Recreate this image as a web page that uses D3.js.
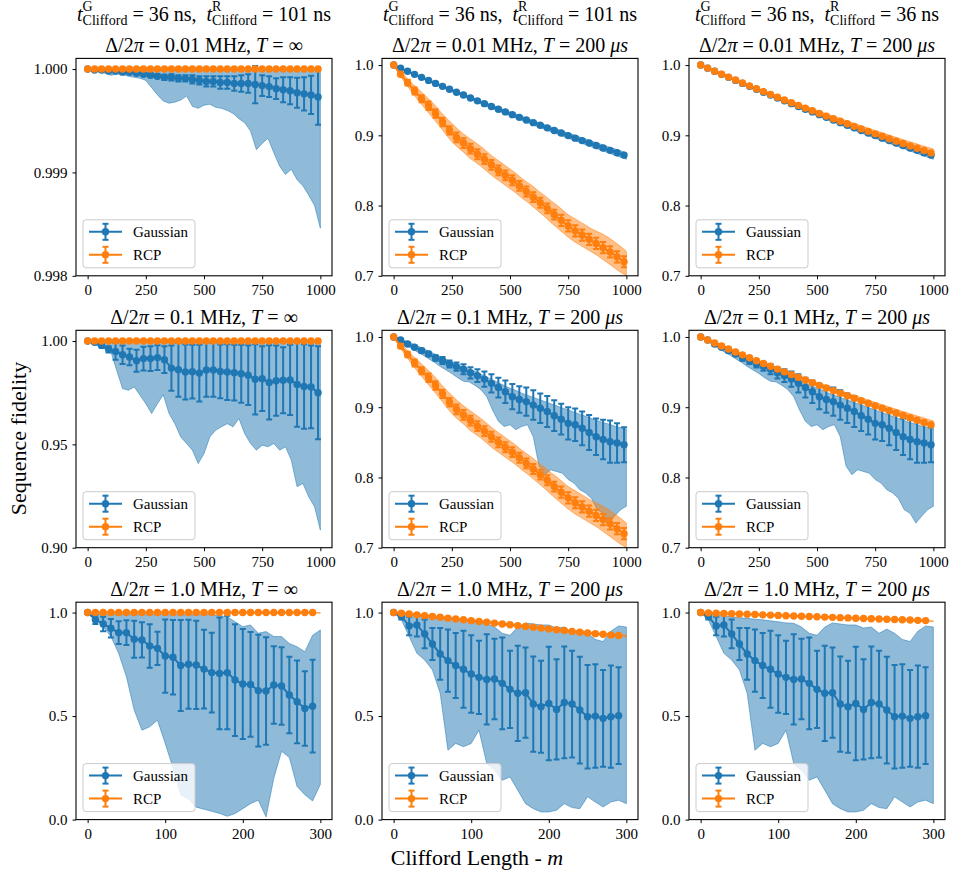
<!DOCTYPE html>
<html>
<head>
<meta charset="utf-8">
<script src="https://cdn.jsdelivr.net/npm/d3@7"></script>
<style>
  body { margin: 0; background: #fff; }
  svg text { font-family: "Liberation Serif", "Times New Roman", serif; fill: #000; }
</style>
</head>
<body>
<div id="chart"></div>
<script>
// ---- x grids (Clifford length m) ----
var mLong = d3.range(0, 991, 30);      // marker positions, 0..990
var mShort = d3.range(0, 291, 10);     // marker positions, 0..290
var bandLong = d3.range(0, 1001, 25);  // band sampling, 0..1000
var bandShort = d3.range(0, 301, 10);  // band sampling, 0..300

// ---- ideal RCP (T = inf): stays at 1 ----
var rInfMean34 = [1,1,1,1,1,1,1,1,1,1, 1,1,1,1,1,1,1,1,1,1, 1,1,1,1,1,1,1,1,1,1, 1,1,1,1];
var rInfErr34 = [0,0,0,0,0,0,0,0,0,0, 0,0,0,0,0,0,0,0,0,0, 0,0,0,0,0,0,0,0,0,0, 0,0,0,0];
var rInfBand41 = [1,1,1,1,1,1,1,1,1,1, 1,1,1,1,1,1,1,1,1,1, 1,1,1,1,1,1,1,1,1,1, 1,1,1,1,1,1,1,1,1,1, 1];
var rInfMean30 = [1,1,1,1,1,1,1,1,1,1, 1,1,1,1,1,1,1,1,1,1, 1,1,1,1,1,1,1,1,1,1];
var rInfErr30 = [0,0,0,0,0,0,0,0,0,0, 0,0,0,0,0,0,0,0,0,0, 0,0,0,0,0,0,0,0,0,0];
var rInfLo31 = [1,1,1,1,1,1,1,1,1,1, 1,1,1,1,1,1,1,1,1,1, 1,1,1,1,1,1,1,1,0.999,0.998, 0.997];
var rInfHi31 = [1,1,1,1,1,1,1,1,1,1, 1,1,1,1,1,1,1,1,1,1, 1,1,1,1,1,1,1,1,1,1, 1];

// ---- Gaussian, 0.01 MHz, T = inf ----
var g1Mean = [1.0, 0.99999, 0.99999, 0.99998, 0.99998, 0.99997, 0.99997, 0.99996, 0.99995, 0.99994,
  0.99993, 0.99992, 0.99992, 0.99991, 0.99991, 0.99990, 0.99989, 0.99988, 0.99988, 0.99987,
  0.99987, 0.99986, 0.99986, 0.99986, 0.99985, 0.99984, 0.99983, 0.99981, 0.99980, 0.99979,
  0.99977, 0.99976, 0.99975, 0.99973];
var g1Err = [0, 0.000003, 0.000005, 0.000006, 0.000008, 0.00001, 0.00001, 0.000012, 0.000015, 0.00002,
  0.00002, 0.000025, 0.00003, 0.00003, 0.00003, 0.00004, 0.00004, 0.00005, 0.00005, 0.00006,
  0.00006, 0.00007, 0.00008, 0.00009, 0.00018, 0.0001, 0.0001, 0.0001, 0.00012, 0.00013,
  0.000145, 0.00016, 0.000185, 0.00027];
var g1Lo = [1.0, 0.99999, 0.99997, 0.99996, 0.99994, 0.99995, 0.99995, 0.99993, 0.99992, 0.99991,
  0.99989, 0.99982, 0.99975, 0.99969, 0.99967, 0.99968, 0.9997, 0.99974, 0.99964, 0.99962,
  0.99965, 0.99966, 0.99963, 0.99962, 0.9996, 0.99957, 0.99952, 0.99948, 0.9994, 0.99922,
  0.99928, 0.99933, 0.99919, 0.99906, 0.99898, 0.99903, 0.99893, 0.99887, 0.99878, 0.99868,
  0.99846];
var g1Hi = rInfBand41;

// ---- Gaussian, 0.01 MHz, T = 200 us ----
var g2Mean = [1.0, 0.9956, 0.9911, 0.9868, 0.9825, 0.9782, 0.9739, 0.9697, 0.9655, 0.9614,
  0.9573, 0.9532, 0.9491, 0.9451, 0.9411, 0.9372, 0.9333, 0.9294, 0.9256, 0.9218,
  0.9180, 0.9143, 0.9106, 0.9069, 0.9032, 0.8996, 0.8960, 0.8925, 0.8890, 0.8855,
  0.8820, 0.8786, 0.8752, 0.8718];
var g2Err = [0, 0.0003, 0.0005, 0.0006, 0.0007, 0.0008, 0.0009, 0.001, 0.001, 0.0011,
  0.0011, 0.0012, 0.0012, 0.0013, 0.0013, 0.0014, 0.0014, 0.0015, 0.0015, 0.0015,
  0.0016, 0.0016, 0.0016, 0.0017, 0.0017, 0.0017, 0.0018, 0.0018, 0.0018, 0.0019,
  0.0019, 0.0019, 0.002, 0.002];
var g2Lo = [1.0, 0.9958, 0.9919, 0.9880, 0.9843, 0.9806, 0.9769, 0.9731, 0.9695, 0.9659,
  0.9623, 0.9588, 0.9553, 0.9518, 0.9483, 0.9448, 0.9414, 0.9380, 0.9346, 0.9312,
  0.9279, 0.9246, 0.9213, 0.9181, 0.9148, 0.9116, 0.9084, 0.9052, 0.9021, 0.8989,
  0.8958, 0.8928, 0.8897, 0.8867, 0.8836, 0.8807, 0.8776, 0.8747, 0.8717, 0.8688,
  0.8659];
var g2Hi = [1.0, 0.9967, 0.9932, 0.9897, 0.9862, 0.9828, 0.9794, 0.9759, 0.9725, 0.9691,
  0.9657, 0.9624, 0.9591, 0.9558, 0.9525, 0.9492, 0.9460, 0.9428, 0.9396, 0.9364,
  0.9333, 0.9302, 0.9271, 0.9241, 0.9210, 0.9180, 0.9150, 0.9120, 0.9091, 0.9061,
  0.9032, 0.9004, 0.8975, 0.8947, 0.8918, 0.8891, 0.8862, 0.8835, 0.8807, 0.8780,
  0.8752];

// ---- Gaussian, 0.1 MHz, T = inf ----
var g3Mean = [1.0, 0.9994, 0.9979, 0.9960, 0.9950, 0.9934, 0.9923, 0.9905, 0.9915, 0.9915,
  0.9920, 0.9910, 0.9869, 0.9861, 0.9850, 0.9852, 0.9845, 0.9860, 0.9860, 0.9853,
  0.9850, 0.9847, 0.9842, 0.9835, 0.9815, 0.9818, 0.9800, 0.9808, 0.9810, 0.9812,
  0.9790, 0.9780, 0.9778, 0.9750];
var g3Err = [0, 0.0005, 0.001, 0.0015, 0.004, 0.0045, 0.004, 0.0053, 0.0057, 0.006,
  0.006, 0.0065, 0.011, 0.013, 0.0133, 0.013, 0.0137, 0.013, 0.013, 0.013,
  0.0135, 0.0135, 0.014, 0.0145, 0.017, 0.0157, 0.018, 0.017, 0.016, 0.017,
  0.0205, 0.0205, 0.020, 0.0225];
var g3Lo = [1.0, 0.9987, 0.9971, 0.9963, 0.9947, 0.9858, 0.977, 0.9762, 0.9778, 0.9738,
  0.9697, 0.9649, 0.9697, 0.974, 0.9649, 0.960, 0.9536, 0.9504, 0.9472, 0.9407,
  0.9455, 0.9536, 0.9568, 0.9585, 0.960, 0.9585, 0.9625, 0.9552, 0.9504, 0.9472,
  0.9496, 0.9488, 0.9504, 0.9472, 0.9488, 0.9424, 0.9295, 0.9311, 0.9246, 0.9198,
  0.9085];
var g3Hi = rInfBand41;

// ---- Gaussian, 0.1 MHz, T = 200 us ----
var g4Mean = [1.0, 0.9957, 0.990, 0.9853, 0.9806, 0.9758, 0.970, 0.9664, 0.9616, 0.9578,
  0.954, 0.949, 0.945, 0.940, 0.934, 0.928, 0.922, 0.915, 0.911, 0.908,
  0.903, 0.8986, 0.894, 0.888, 0.883, 0.877, 0.875, 0.870, 0.864, 0.858,
  0.854, 0.851, 0.849, 0.8465];
var g4Err = [0, 0.001, 0.002, 0.002, 0.003, 0.003, 0.004, 0.005, 0.005, 0.006,
  0.007, 0.008, 0.009, 0.011, 0.013, 0.014, 0.016, 0.018, 0.019, 0.020,
  0.021, 0.021, 0.022, 0.022, 0.022, 0.023, 0.023, 0.024, 0.025, 0.026,
  0.028, 0.030, 0.028, 0.025];
var g4Lo = [1.0, 0.9950, 0.9895, 0.984, 0.979, 0.9745, 0.969, 0.964, 0.958, 0.953,
  0.948, 0.942, 0.937, 0.936, 0.931, 0.925, 0.915, 0.896, 0.880, 0.8725,
  0.875, 0.868, 0.8725, 0.875, 0.858, 0.816, 0.804, 0.811, 0.8085, 0.806,
  0.797, 0.792, 0.7825, 0.778, 0.770, 0.754, 0.749, 0.735, 0.745, 0.754,
  0.759];
var g4Hi = [1.0, 0.9975, 0.9945, 0.991, 0.9875, 0.984, 0.980, 0.976, 0.972, 0.968,
  0.964, 0.960, 0.957, 0.954, 0.951, 0.947, 0.943, 0.939, 0.935, 0.931,
  0.927, 0.924, 0.920, 0.917, 0.914, 0.911, 0.908, 0.905, 0.902, 0.899,
  0.896, 0.893, 0.890, 0.887, 0.884, 0.881, 0.878, 0.876, 0.873, 0.871,
  0.869];

// ---- Gaussian, 1.0 MHz, T = inf ----
var g5Mean = [1.0, 0.965, 0.945, 0.924, 0.903, 0.903, 0.871, 0.868, 0.839, 0.827,
  0.790, 0.784, 0.744, 0.750, 0.747, 0.727, 0.710, 0.706, 0.710, 0.674,
  0.655, 0.653, 0.623, 0.621, 0.650, 0.645, 0.602, 0.569, 0.537, 0.548];
var g5Err = [0, 0.02, 0.035, 0.045, 0.055, 0.06, 0.089, 0.085, 0.105, 0.08,
  0.177, 0.18, 0.22, 0.215, 0.213, 0.19, 0.193, 0.27, 0.274, 0.27,
  0.266, 0.253, 0.27, 0.26, 0.187, 0.187, 0.185, 0.2, 0.18, 0.224];
var g5Lo = [1.0, 0.973, 0.932, 0.884, 0.803, 0.69, 0.529, 0.432, 0.448, 0.48,
  0.368, 0.25, 0.12, 0.10, 0.06, 0.05, 0.04, 0.03, 0.016, 0.029,
  0.053, 0.077, 0.094, 0.013, 0.20, 0.33, 0.30, 0.16, 0.12, 0.09,
  0.17];
var g5Hi = [1.0, 0.995, 0.99, 0.99, 0.99, 0.99, 0.99, 0.99, 0.99, 0.99,
  0.99, 0.99, 0.99, 0.99, 0.99, 0.99, 0.99, 0.985, 0.98, 0.956,
  0.932, 0.94, 0.90, 0.908, 0.884, 0.884, 0.85, 0.835, 0.811, 0.89,
  0.916];

// ---- Gaussian, 1.0 MHz, T = 200 us ----
var g6Mean = [1.0, 0.981, 0.935, 0.94, 0.897, 0.848, 0.80, 0.768, 0.744, 0.726,
  0.703, 0.687, 0.677, 0.679, 0.658, 0.629, 0.61, 0.613, 0.558, 0.545,
  0.561, 0.532, 0.566, 0.558, 0.529, 0.497, 0.50, 0.489, 0.497, 0.502];
var g6Err = [0, 0.015, 0.045, 0.056, 0.07, 0.077, 0.125, 0.15, 0.157, 0.186,
  0.187, 0.177, 0.218, 0.194, 0.222, 0.187, 0.23, 0.218, 0.23, 0.222,
  0.274, 0.242, 0.27, 0.258, 0.258, 0.25, 0.25, 0.234, 0.247, 0.234];
var g6Lo = [1.0, 0.965, 0.884, 0.803, 0.771, 0.723, 0.61, 0.335, 0.368, 0.352,
  0.368, 0.432, 0.271, 0.239, 0.19, 0.206, 0.142, 0.077, 0.053, 0.037,
  0.037, 0.045, 0.077, 0.058, 0.053, 0.11, 0.085, 0.061, 0.085, 0.094,
  0.077];
var g6Hi = [1.0, 0.995, 0.99, 0.985, 0.98, 0.975, 0.972, 0.968, 0.965, 0.96,
  0.955, 0.95, 0.948, 0.93, 0.90, 0.89, 0.93, 0.95, 0.945, 0.94,
  0.94, 0.925, 0.93, 0.90, 0.92, 0.90, 0.87, 0.86, 0.91, 0.935,
  0.93];

// ---- RCP, t = 101 ns, T = 200 us ----
var r101Mean = [1.000, 0.987, 0.975, 0.963, 0.952, 0.942, 0.931, 0.919, 0.907, 0.897,
  0.889, 0.881, 0.873, 0.866, 0.858, 0.850, 0.843, 0.836, 0.828, 0.820,
  0.812, 0.804, 0.796, 0.787, 0.779, 0.771, 0.764, 0.758, 0.752, 0.746,
  0.740, 0.734, 0.727, 0.720];
var r101Err = [0, 0.003, 0.004, 0.005, 0.005, 0.006, 0.006, 0.006, 0.006, 0.007,
  0.007, 0.007, 0.007, 0.007, 0.007, 0.007, 0.007, 0.007, 0.007, 0.007,
  0.007, 0.007, 0.007, 0.007, 0.008, 0.008, 0.008, 0.008, 0.008, 0.008,
  0.008, 0.008, 0.008, 0.008];
var r101Lo = [1.0, 0.986, 0.974, 0.963, 0.952, 0.942, 0.932, 0.922, 0.912, 0.901,
  0.891, 0.883, 0.876, 0.868, 0.862, 0.856, 0.849, 0.842, 0.836, 0.830,
  0.824, 0.818, 0.811, 0.805, 0.798, 0.791, 0.784, 0.776, 0.769, 0.762,
  0.755, 0.749, 0.744, 0.739, 0.734, 0.729, 0.723, 0.717, 0.711, 0.705,
  0.700];
var r101Hi = [1.0, 0.992, 0.984, 0.975, 0.968, 0.960, 0.952, 0.944, 0.934, 0.925,
  0.917, 0.909, 0.902, 0.896, 0.890, 0.884, 0.877, 0.870, 0.864, 0.858,
  0.852, 0.846, 0.839, 0.833, 0.827, 0.820, 0.814, 0.807, 0.801, 0.794,
  0.787, 0.782, 0.777, 0.772, 0.767, 0.763, 0.759, 0.754, 0.748, 0.742,
  0.735];

// ---- RCP, t = 36 ns, T = 200 us ----
var r36Mean = [1.0, 0.99566, 0.99136, 0.98710, 0.98287, 0.97868, 0.97452, 0.97040, 0.96632, 0.96227,
  0.95826, 0.95428, 0.95034, 0.94643, 0.94256, 0.93872, 0.93491, 0.93113, 0.92739, 0.92368,
  0.92000, 0.91636, 0.91275, 0.90916, 0.90561, 0.90209, 0.89860, 0.89514, 0.89171, 0.88831,
  0.88494, 0.88160, 0.87829, 0.87500];
var r36Err = [0, 0.0003, 0.0004, 0.0005, 0.0006, 0.0007, 0.0008, 0.0008, 0.0009, 0.0009,
  0.001, 0.001, 0.001, 0.0011, 0.0011, 0.0011, 0.0012, 0.0012, 0.0012, 0.0013,
  0.0013, 0.0013, 0.0013, 0.0014, 0.0014, 0.0014, 0.0014, 0.0015, 0.0015, 0.0015,
  0.0015, 0.0016, 0.0016, 0.0016];
var r36Lo = [1.0, 0.9961, 0.9925, 0.9887, 0.9850, 0.9813, 0.9777, 0.9741, 0.9705, 0.9670,
  0.9635, 0.9600, 0.9565, 0.9531, 0.9497, 0.9463, 0.9430, 0.9397, 0.9364, 0.9331,
  0.9298, 0.9266, 0.9234, 0.9202, 0.9171, 0.9140, 0.9109, 0.9078, 0.9047, 0.9017,
  0.8987, 0.8957, 0.8927, 0.8898, 0.8868, 0.8839, 0.8810, 0.8781, 0.8753, 0.8724,
  0.8696];
var r36Hi = [1.0, 0.9967, 0.9932, 0.9898, 0.9864, 0.9830, 0.9797, 0.9764, 0.9731, 0.9698,
  0.9666, 0.9634, 0.9602, 0.9570, 0.9539, 0.9508, 0.9477, 0.9446, 0.9416, 0.9386,
  0.9356, 0.9326, 0.9297, 0.9268, 0.9239, 0.9210, 0.9181, 0.9153, 0.9125, 0.9097,
  0.9069, 0.9042, 0.9015, 0.8988, 0.8961, 0.8934, 0.8908, 0.8882, 0.8856, 0.8830,
  0.8805];

// ---- RCP over 300 Cliffords, 1.0 MHz ----
var r101sMean = [1.0, 0.9965, 0.993, 0.989, 0.985, 0.981, 0.977, 0.973, 0.969, 0.965,
  0.961, 0.957, 0.953, 0.949, 0.945, 0.941, 0.937, 0.933, 0.929, 0.925,
  0.921, 0.917, 0.913, 0.909, 0.905, 0.901, 0.898, 0.895, 0.892, 0.889];
var r101sErr = [0, 0.002, 0.002, 0.003, 0.003, 0.003, 0.003, 0.003, 0.003, 0.004,
  0.004, 0.004, 0.004, 0.004, 0.004, 0.004, 0.004, 0.004, 0.004, 0.004,
  0.004, 0.004, 0.004, 0.004, 0.004, 0.004, 0.004, 0.004, 0.004, 0.004];
var r101sLo = [1.0, 0.993, 0.988, 0.984, 0.980, 0.976, 0.972, 0.968, 0.964, 0.960,
  0.956, 0.952, 0.948, 0.944, 0.940, 0.936, 0.932, 0.928, 0.924, 0.920,
  0.916, 0.912, 0.908, 0.904, 0.900, 0.896, 0.893, 0.890, 0.887, 0.884,
  0.881];
var r101sHi = [1.0, 0.999, 0.997, 0.994, 0.990, 0.986, 0.982, 0.978, 0.974, 0.970,
  0.966, 0.962, 0.958, 0.954, 0.950, 0.946, 0.942, 0.938, 0.934, 0.930,
  0.926, 0.922, 0.918, 0.914, 0.910, 0.906, 0.903, 0.900, 0.897, 0.894,
  0.891];
var r36sMean = [1.0, 0.9986, 0.9972, 0.9958, 0.9945, 0.9931, 0.9917, 0.9903, 0.989, 0.9876,
  0.9862, 0.9849, 0.9835, 0.9822, 0.9808, 0.9795, 0.9781, 0.9768, 0.9755, 0.9741,
  0.9728, 0.9715, 0.9702, 0.9689, 0.9676, 0.9663, 0.965, 0.9637, 0.9624, 0.9611];
var r36sErr = [0, 0.0012, 0.0012, 0.0012, 0.0012, 0.0012, 0.0012, 0.0012, 0.0012, 0.0012,
  0.0012, 0.0012, 0.0012, 0.0012, 0.0012, 0.0012, 0.0012, 0.0012, 0.0012, 0.0012,
  0.0012, 0.0012, 0.0012, 0.0012, 0.0012, 0.0012, 0.0012, 0.0012, 0.0012, 0.0012];
var r36sLo = [1.0, 0.9968, 0.9952, 0.9938, 0.9924, 0.9910, 0.9896, 0.9882, 0.9868, 0.9854,
  0.9840, 0.9826, 0.9812, 0.9798, 0.9784, 0.9770, 0.9756, 0.9742, 0.9728, 0.9714,
  0.9700, 0.9686, 0.9672, 0.9658, 0.9644, 0.9630, 0.9616, 0.9602, 0.9588, 0.9574,
  0.9560];
var r36sHi = [1.0, 1.0, 0.9990, 0.9978, 0.9964, 0.9950, 0.9936, 0.9922, 0.9908, 0.9894,
  0.9880, 0.9866, 0.9852, 0.9838, 0.9824, 0.9810, 0.9796, 0.9782, 0.9768, 0.9754,
  0.9740, 0.9726, 0.9712, 0.9698, 0.9684, 0.9670, 0.9656, 0.9642, 0.9628, 0.9614,
  0.9600];

// ---- tick labels ----
var xTicksLong = [0, 250, 500, 750, 1000];
var xTicksShort = [0, 100, 200, 300];
var yTicksFine = [0.998, 0.999, 1.000];
var yTicksMid = [0.90, 0.95, 1.00];
var yTicksT = [0.7, 0.8, 0.9, 1.0];
var yTicksBig = [0.0, 0.5, 1.0];

var legendNames = ["Gaussian", "RCP"];
var colors = ["#1f77b4", "#ff7f0e"];

// build series objects from the arrays above
function series(m, mean, err, bandM, lo, hi) {
  return { m: m, mean: mean, err: err, bandM: bandM, lo: lo, hi: hi };
}
var G1 = series(mLong, g1Mean, g1Err, bandLong, g1Lo, g1Hi);
var G2 = series(mLong, g2Mean, g2Err, bandLong, g2Lo, g2Hi);
var G3 = series(mLong, g3Mean, g3Err, bandLong, g3Lo, g3Hi);
var G4 = series(mLong, g4Mean, g4Err, bandLong, g4Lo, g4Hi);
var G5 = series(mShort, g5Mean, g5Err, bandShort, g5Lo, g5Hi);
var G6 = series(mShort, g6Mean, g6Err, bandShort, g6Lo, g6Hi);
var RInf = series(mLong, rInfMean34, rInfErr34, bandLong, rInfBand41, rInfBand41);
var RInfS = series(mShort, rInfMean30, rInfErr30, bandShort, rInfLo31, rInfHi31);
var R101 = series(mLong, r101Mean, r101Err, bandLong, r101Lo, r101Hi);
var R36 = series(mLong, r36Mean, r36Err, bandLong, r36Lo, r36Hi);
var R101S = series(mShort, r101sMean, r101sErr, bandShort, r101sLo, r101sHi);
var R36S = series(mShort, r36sMean, r36sErr, bandShort, r36sLo, r36sHi);

//Layout
var width = 954, height = 877;
var colLeft = [76, 382, 689];
var rowTop = [58.4, 330.3, 602.2];
var W = 256, H = 217.4;
var fontTick = 15, fontTitle = 20, fontLabel = 22, fontScript = 14;
var NB = "\u00a0"; // non-breaking space so SVG keeps it

function titleParts(delta, infinite) {
  var p = [["Δ/2", 0], ["π", 1], [" = " + delta + " MHz, ", 0], ["T", 1]];
  if (infinite) p.push([" = ∞", 0]);
  else { p.push([" = 200 ", 0]); p.push(["μs", 1]); }
  return p;
}

var panels = [
  { row: 0, col: 0, g: G1, r: RInf, long: true, yDomain: [0.998, 1.000103], yTicks: yTicksFine, fmt: ".3f", title: titleParts("0.01", true) },
  { row: 0, col: 1, g: G2, r: R101, long: true, yDomain: [0.7, 1.0095], yTicks: yTicksT, fmt: ".1f", title: titleParts("0.01", false) },
  { row: 0, col: 2, g: G2, r: R36, long: true, yDomain: [0.7, 1.0095], yTicks: yTicksT, fmt: ".1f", title: titleParts("0.01", false) },
  { row: 1, col: 0, g: G3, r: RInf, long: true, yDomain: [0.9, 1.0052], yTicks: yTicksMid, fmt: ".2f", title: titleParts("0.1", true) },
  { row: 1, col: 1, g: G4, r: R101, long: true, yDomain: [0.7, 1.0095], yTicks: yTicksT, fmt: ".1f", title: titleParts("0.1", false) },
  { row: 1, col: 2, g: G4, r: R36, long: true, yDomain: [0.7, 1.0095], yTicks: yTicksT, fmt: ".1f", title: titleParts("0.1", false) },
  { row: 2, col: 0, g: G5, r: RInfS, long: false, yDomain: [0, 1.05], yTicks: yTicksBig, fmt: ".1f", title: titleParts("1.0", true) },
  { row: 2, col: 1, g: G6, r: R101S, long: false, yDomain: [0, 1.05], yTicks: yTicksBig, fmt: ".1f", title: titleParts("1.0", false) },
  { row: 2, col: 2, g: G6, r: R36S, long: false, yDomain: [0, 1.05], yTicks: yTicksBig, fmt: ".1f", title: titleParts("1.0", false) }
];

var headers = [["36", "101"], ["36", "101"], ["36", "36"]];

var svg = d3.select("#chart").append("svg")
  .attr("width", width).attr("height", height)
  .attr("viewBox", [0, 0, width, height]);
svg.append("rect").attr("width", width).attr("height", height).attr("fill", "#fff");
var defs = svg.append("defs");

var lw = 2, markerR = 3.7, capHalf = 3;

// draws a text made of [string, italic] pieces, centred on cx
function richText(cx, y, parts, size) {
  var t = svg.append("text").attr("x", 0).attr("y", y).attr("font-size", size);
  parts.forEach(function (p) {
    t.append("tspan").text(p[0]).attr("font-style", p[1] ? "italic" : "normal");
  });
  var w = t.node().getComputedTextLength();
  t.attr("x", cx - w / 2);
  return t;
}

function measure(str, size, italic) {
  var t = svg.append("text").attr("font-size", size)
    .attr("font-style", italic ? "italic" : "normal").text(str);
  var w = t.node().getComputedTextLength();
  t.remove();
  return w;
}

// header line with stacked super/subscripts, built from separate texts
function headerText(cx, y, gVal, rVal) {
  var pieces = [];
  function script(sup) {
    pieces.push({ kind: "t", str: "t" });
    pieces.push({ kind: "stack", sup: sup, sub: "Clifford" });
  }
  script("G");
  pieces.push({ kind: "n", str: NB + "=" + NB + gVal + NB + "ns," + NB + NB });
  script("R");
  pieces.push({ kind: "n", str: NB + "=" + NB + rVal + NB + "ns" });
  pieces.forEach(function (p) {
    if (p.kind === "stack") p.w = Math.max(measure(p.sup, fontScript), measure(p.sub, fontScript));
    else p.w = measure(p.str, fontTitle, p.kind === "t");
  });
  var x = cx - d3.sum(pieces, p => p.w) / 2;
  pieces.forEach(function (p) {
    if (p.kind === "stack") {
      svg.append("text").attr("x", x).attr("y", y - 9.5).attr("font-size", fontScript).text(p.sup);
      svg.append("text").attr("x", x).attr("y", y + 4).attr("font-size", fontScript).text(p.sub);
    } else {
      svg.append("text").attr("x", x).attr("y", y).attr("font-size", fontTitle)
        .attr("font-style", p.kind === "t" ? "italic" : "normal").text(p.str);
    }
    x += p.w;
  });
}

function drawSeries(g, s, color, xScale, yScale) {
  // error bars
  var pts = s.m.map(function (m, i) { return { m: m, v: s.mean[i], e: s.err[i] }; });
  var eb = g.append("g").attr("stroke", color).attr("stroke-width", lw);
  eb.selectAll(".bar").data(pts).join("line")
    .attr("x1", d => xScale(d.m)).attr("x2", d => xScale(d.m))
    .attr("y1", d => yScale(d.v - d.e)).attr("y2", d => yScale(d.v + d.e));
  eb.selectAll(".capTop").data(pts).join("line")
    .attr("x1", d => xScale(d.m) - capHalf).attr("x2", d => xScale(d.m) + capHalf)
    .attr("y1", d => yScale(d.v + d.e)).attr("y2", d => yScale(d.v + d.e));
  eb.selectAll(".capBot").data(pts).join("line")
    .attr("x1", d => xScale(d.m) - capHalf).attr("x2", d => xScale(d.m) + capHalf)
    .attr("y1", d => yScale(d.v - d.e)).attr("y2", d => yScale(d.v - d.e));

  // mean line + markers
  var line = d3.line().x(d => xScale(d.m)).y(d => yScale(d.v));
  g.append("path").datum(pts).attr("d", line)
    .attr("fill", "none").attr("stroke", color).attr("stroke-width", lw);
  g.append("g").selectAll("circle").data(pts).join("circle")
    .attr("cx", d => xScale(d.m)).attr("cy", d => yScale(d.v))
    .attr("r", markerR).attr("fill", color);
}

function drawBand(g, s, color, xScale, yScale) {
  var area = d3.area()
    .x((d, i) => xScale(s.bandM[i]))
    .y0(d => yScale(d[0])).y1(d => yScale(d[1]));
  g.append("path").datum(d3.zip(s.lo, s.hi)).attr("d", area)
    .attr("fill", color).attr("fill-opacity", 0.5)
    .attr("stroke", color).attr("stroke-opacity", 0.5).attr("stroke-width", 1);
}

panels.forEach(function (p, k) {
  var x0 = colLeft[p.col], y0 = rowTop[p.row];
  var xScale = d3.scaleLinear().domain(p.long ? [-50, 1050] : [-15, 315]).range([x0, x0 + W]);
  var yScale = d3.scaleLinear().domain(p.yDomain).range([y0 + H, y0]);

  defs.append("clipPath").attr("id", "clip" + k)
    .append("rect").attr("x", x0).attr("y", y0).attr("width", W).attr("height", H);

  var plot = svg.append("g").attr("clip-path", "url(#clip" + k + ")");
  drawBand(plot, p.g, colors[0], xScale, yScale);
  drawBand(plot, p.r, colors[1], xScale, yScale);
  drawSeries(plot, p.g, colors[0], xScale, yScale);
  drawSeries(plot, p.r, colors[1], xScale, yScale);

  // axes
  var xAxis = d3.axisBottom(xScale).tickValues(p.long ? xTicksLong : xTicksShort)
    .tickFormat(d3.format("d")).tickSize(3.5).tickPadding(4.8);
  var yAxis = d3.axisLeft(yScale).tickValues(p.yTicks)
    .tickFormat(d3.format(p.fmt)).tickSize(3.5).tickPadding(5);
  svg.append("g").attr("transform", "translate(0," + (y0 + H) + ")").call(xAxis)
    .call(g => g.select(".domain").remove())
    .attr("font-family", null).attr("font-size", fontTick);
  svg.append("g").attr("transform", "translate(" + x0 + ",0)").call(yAxis)
    .call(g => g.select(".domain").remove())
    .attr("font-family", null).attr("font-size", fontTick);

  // frame
  svg.append("rect").attr("x", x0).attr("y", y0).attr("width", W).attr("height", H)
    .attr("fill", "none").attr("stroke", "#000").attr("stroke-width", 1.1);

  // legend
  var lx = x0 + 7, ly = y0 + H - 56;
  var leg = svg.append("g");
  leg.append("rect").attr("x", lx).attr("y", ly).attr("width", 112).attr("height", 48)
    .attr("rx", 3).attr("fill", "#fff").attr("fill-opacity", 0.8)
    .attr("stroke", "#cccccc").attr("stroke-width", 1);
  legendNames.forEach(function (name, i) {
    var cy = ly + 12 + i * 23, c = colors[i], hx = lx + 22.5;
    leg.append("line").attr("x1", lx + 6).attr("x2", lx + 39).attr("y1", cy).attr("y2", cy)
      .attr("stroke", c).attr("stroke-width", lw);
    leg.append("line").attr("x1", hx).attr("x2", hx).attr("y1", cy - 8).attr("y2", cy + 8)
      .attr("stroke", c).attr("stroke-width", lw);
    [cy - 8, cy + 8].forEach(function (yy) {
      leg.append("line").attr("x1", hx - capHalf).attr("x2", hx + capHalf).attr("y1", yy).attr("y2", yy)
        .attr("stroke", c).attr("stroke-width", lw);
    });
    leg.append("circle").attr("cx", hx).attr("cy", cy).attr("r", markerR).attr("fill", c);
    leg.append("text").attr("x", lx + 50).attr("y", cy + 5).attr("font-size", fontTick).text(name);
  });

  // panel title
  richText(x0 + W / 2, y0 - 6.6, p.title, fontTitle);
});

// column headers
headers.forEach(function (h, c) {
  headerText(colLeft[c] + W / 2, 20.5, h[0], h[1]);
});

// shared axis labels
svg.append("text").attr("transform", "translate(26," + (height / 2) + ") rotate(-90)")
  .attr("text-anchor", "middle").attr("font-size", fontLabel).text("Sequence fidelity");
var xl = svg.append("text").attr("x", width / 2).attr("y", 864.5)
  .attr("text-anchor", "middle").attr("font-size", fontLabel);
xl.append("tspan").text("Clifford Length - ");
xl.append("tspan").text("m").attr("font-style", "italic");
</script>
</body>
</html>
